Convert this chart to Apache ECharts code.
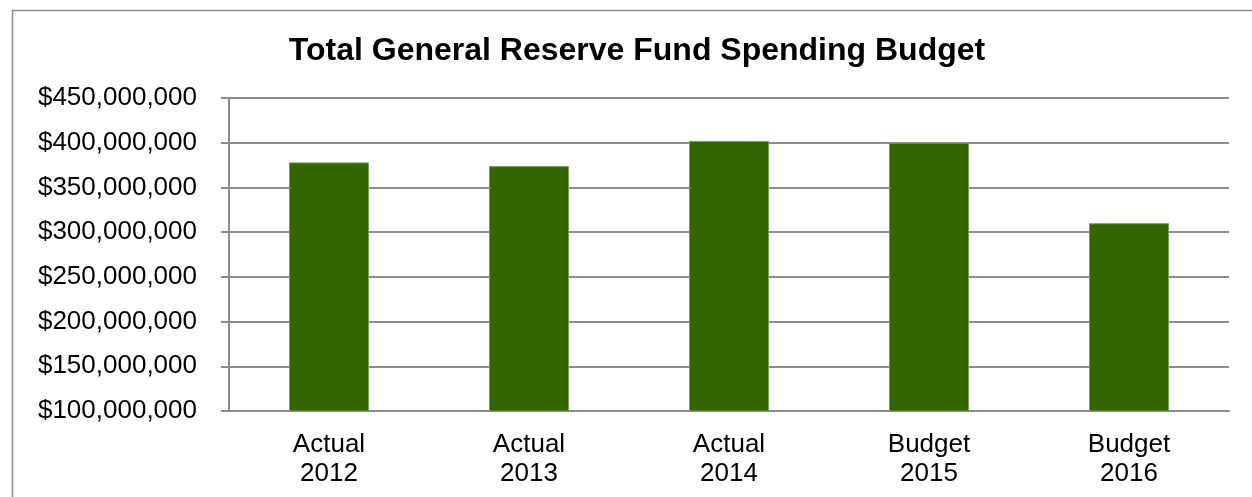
<!DOCTYPE html>
<html>
<head>
<meta charset="utf-8">
<script src="https://cdn.jsdelivr.net/npm/echarts@6/dist/echarts.min.js"></script>
<style>
  html, body { margin: 0; padding: 0; background: #fff; }
  #chart { width: 1252px; height: 497px; }
</style>
</head>
<body>
<div id="chart"></div>
<script>
// Spending by year (dollars)
const categories = ['Actual\n2012', 'Actual\n2013', 'Actual\n2014', 'Budget\n2015', 'Budget\n2016'];
const spending = [378000000, 374000000, 402000000, 400000000, 310000000];
const axisMin = 100000000;
const axisMax = 450000000;
const axisStep = 50000000;

const FONT = '"Liberation Sans", Arial, sans-serif';
const GRID_GRAY = '#8c8c8c';

function money(v) {
  return '$' + Math.round(v).toString().replace(/\B(?=(\d{3})+(?!\d))/g, ',');
}

const chart = echarts.init(document.getElementById('chart'), null, { renderer: 'canvas' });
chart.setOption({
  animation: false,
  backgroundColor: '#ffffff',
  title: {
    text: 'Total General Reserve Fund Spending Budget',
    left: 632,
    textAlign: 'center',
    top: 30,
    textStyle: { fontFamily: FONT, fontSize: 32, fontWeight: 'bold', color: '#000' }
  },
  graphic: [{
    type: 'rect',
    left: 10, top: 8,
    shape: { width: 1270, height: 520 },
    style: { fill: 'none', stroke: GRID_GRAY, lineWidth: 1.5 },
    silent: true
  }],
  grid: { left: 229, right: 23, top: 98, bottom: 86 },
  xAxis: {
    type: 'category',
    data: categories,
    axisLine: { lineStyle: { color: GRID_GRAY, width: 2 } },
    axisTick: { show: false },
    axisLabel: {
      margin: 19,
      fontFamily: FONT, fontSize: 26, color: '#000', lineHeight: 29
    }
  },
  yAxis: {
    type: 'value',
    min: axisMin, max: axisMax, interval: axisStep,
    axisLine: { show: true, lineStyle: { color: GRID_GRAY, width: 2 } },
    axisTick: { show: true, length: 8, lineStyle: { color: GRID_GRAY, width: 2 } },
    splitLine: { lineStyle: { color: GRID_GRAY, width: 2 } },
    axisLabel: {
      margin: 32,
      formatter: money,
      fontFamily: FONT, fontSize: 26, color: '#000'
    }
  },
  series: [{
    type: 'bar',
    data: spending,
    barWidth: '40%',
    itemStyle: { color: '#336600', borderColor: '#7a9d5c', borderWidth: 1 }
  }]
});
</script>
</body>
</html>
